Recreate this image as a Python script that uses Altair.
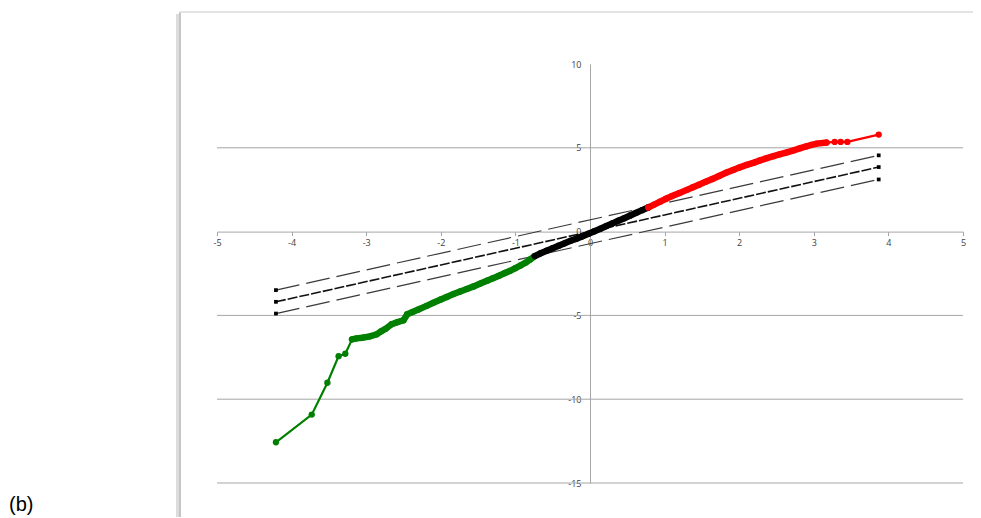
import altair as alt
import pandas as pd

# ---- data ----
# lower tail (green)
green_x = [-4.21, -3.73, -3.52, -3.37, -3.28, -3.19, -3.13, -3.05, -2.95, -2.86,
           -2.80, -2.74, -2.66, -2.58, -2.50, -2.45, -2.38, -2.30, -2.19, -2.10,
           -2.00, -1.92, -1.83, -1.74, -1.65, -1.56, -1.47, -1.38, -1.30, -1.22,
           -1.14, -1.07, -1.00, -0.93, -0.86, -0.80, -0.74]
green_y = [-12.57, -10.92, -9.02, -7.43, -7.29, -6.43, -6.37, -6.33, -6.25, -6.13,
           -5.95, -5.80, -5.53, -5.40, -5.29, -4.93, -4.80, -4.65, -4.43, -4.25,
           -4.05, -3.90, -3.73, -3.57, -3.42, -3.27, -3.10, -2.93, -2.78, -2.63,
           -2.47, -2.34, -2.18, -2.02, -1.85, -1.66, -1.46]
# centre (black)
black_x = [-0.74, -0.66, -0.58, -0.50, -0.42, -0.34, -0.26, -0.18, -0.10, -0.02,
           0.06, 0.14, 0.22, 0.30, 0.38, 0.46, 0.54, 0.62, 0.70, 0.78]
black_y = [-1.46, -1.29, -1.14, -0.99, -0.84, -0.70, -0.55, -0.42, -0.28, -0.13,
           0.02, 0.17, 0.33, 0.49, 0.65, 0.80, 0.96, 1.12, 1.28, 1.44]
# upper tail (red)
red_x = [0.78, 0.86, 0.94, 1.02, 1.10, 1.20, 1.30, 1.38, 1.46, 1.55,
         1.64, 1.73, 1.83, 1.92, 2.00, 2.10, 2.20, 2.28, 2.37, 2.46,
         2.55, 2.64, 2.73, 2.82, 2.90, 2.97, 3.04, 3.10, 3.17, 3.28,
         3.36, 3.45, 3.87]
red_y = [1.44, 1.61, 1.79, 1.96, 2.12, 2.30, 2.49, 2.65, 2.80, 2.97,
         3.14, 3.32, 3.52, 3.68, 3.82, 3.98, 4.12, 4.25, 4.38, 4.50,
         4.62, 4.73, 4.85, 4.98, 5.08, 5.17, 5.25, 5.28, 5.31, 5.35,
         5.35, 5.35, 5.79]

# reference lines (two end points each)
ref_x = [-4.21, 3.87]
ref_mid = [-4.19, 3.85]
ref_upper = [-3.49, 4.55]
ref_lower = [-4.89, 3.11]

x_ticks = [-5, -4, -3, -2, -1, 0, 1, 2, 3, 4, 5]
y_ticks = [-15, -10, -5, 0, 5, 10]
grid_y = [5, -5, -10, -15]
panel_label = "(b)"

# ---- tables ----
rows = []
for seg, xs, ys in (("low", green_x, green_y), ("mid", black_x, black_y), ("high", red_x, red_y)):
    for i, (a, b) in enumerate(zip(xs, ys)):
        rows.append({"seg": seg, "i": i, "x": a, "y": b})
curve = pd.DataFrame(rows)

refs = pd.DataFrame(
    [{"ref": "upper", "x": a, "y": b} for a, b in zip(ref_x, ref_upper)]
    + [{"ref": "lower", "x": a, "y": b} for a, b in zip(ref_x, ref_lower)]
)
refmid = pd.DataFrame({"x": ref_x, "y": ref_mid})
refall = pd.concat([refs, refmid.assign(ref="mid")])
grid = pd.DataFrame({"g": grid_y})

W, H = 746, 419
xscale = alt.Scale(domain=[-5, 5], nice=False, zero=False)
yscale = alt.Scale(domain=[-15, 10], nice=False, zero=False)

axis_grey = "#a6a6a6"
label_col = "#404040"
x_axis = alt.Axis(values=x_ticks, title=None, grid=False, offset=-H * 15 / 25,
                  domainColor=axis_grey, tickColor=axis_grey, tickSize=4,
                  labelPadding=3, labelFont="Open Sans", labelFontSize=9,
                  labelColor=label_col, labelExpr="'' + datum.value", labelFlush=False)
y_axis = alt.Axis(values=y_ticks, title=None, grid=False, offset=-W / 2,
                  domainColor=axis_grey, ticks=False, labelPadding=9,
                  labelFont="Open Sans", labelFontSize=9, labelColor=label_col,
                  labelExpr="'' + datum.value")

X = lambda f: alt.X(f, type="quantitative", scale=xscale, axis=x_axis)
Y = lambda f: alt.Y(f, type="quantitative", scale=yscale, axis=y_axis)

gridlines = alt.Chart(grid).mark_rule(color=axis_grey, strokeWidth=1).encode(
    y=Y("g"), x=alt.datum(-5), x2=alt.datum(5)
)

seg_color = alt.Color("seg:N", scale=alt.Scale(domain=["low", "mid", "high"],
                                               range=["#008000", "#000000", "#ff0000"]),
                      legend=None)

curve_line = alt.Chart(curve).mark_line(strokeWidth=2.2).encode(
    x=X("x"), y=Y("y"), color=seg_color, detail="seg:N", order="i:Q"
)
# densely sampled part of the curve shows as a thick band of overlapping markers
curve_dense = alt.Chart(curve).transform_filter(
    (alt.datum.x > -3.2) & (alt.datum.x < 3.2)
).mark_line(strokeWidth=6.5, strokeCap="round").encode(
    x=X("x"), y=Y("y"), color=seg_color, detail="seg:N", order="i:Q"
)
curve_pts = alt.Chart(curve).mark_circle(size=40, opacity=1).encode(
    x=X("x"), y=Y("y"), color=seg_color
)

ref_outer = alt.Chart(refs).mark_line(color="#3a3a3a", strokeWidth=1.2,
                                      strokeDash=[24, 7]).encode(
    x=X("x"), y=Y("y"), detail="ref:N"
)
ref_middle = alt.Chart(refmid).mark_line(color="#111111", strokeWidth=1.6,
                                         strokeDash=[10, 2]).encode(
    x=X("x"), y=Y("y")
)
ref_marks = alt.Chart(refall).mark_square(size=14, color="black", opacity=1).encode(
    x=X("x"), y=Y("y")
)

# frame of the embedded chart picture (left and top edges with a light shadow)
frame_shadow = alt.Chart(grid).mark_rule(color="#dcdcdc", strokeWidth=4).encode(
    x=alt.value(-39), y=alt.value(-50), y2=alt.value(470)
)
frame_left = alt.Chart(grid).mark_rule(color="#c4c4c4", strokeWidth=1.5).encode(
    x=alt.value(-37), y=alt.value(-52), y2=alt.value(470)
)
frame_top = alt.Chart(grid).mark_rule(color="#e2e2e2", strokeWidth=1).encode(
    y=alt.value(-52), x=alt.value(-37), x2=alt.value(770)
)

label = alt.Chart(pd.DataFrame({"t": [panel_label]})).mark_text(
    font="Liberation Sans", fontSize=20, align="left", baseline="alphabetic", color="black"
).encode(text="t:N", x=alt.value(-208), y=alt.value(447))

chart = alt.layer(
    frame_shadow, frame_left, frame_top, gridlines,
    ref_outer, ref_middle, ref_marks,
    curve_dense, curve_line, curve_pts, label
).properties(
    width=W, height=H,
    padding={"left": 209, "top": 56, "right": 10, "bottom": 34},
    autosize=alt.AutoSizeParams(type="none"),
    background="white",
).configure_view(strokeWidth=0, stroke="transparent")

chart.save("out.html", embed_options={"renderer": "svg", "actions": False})
